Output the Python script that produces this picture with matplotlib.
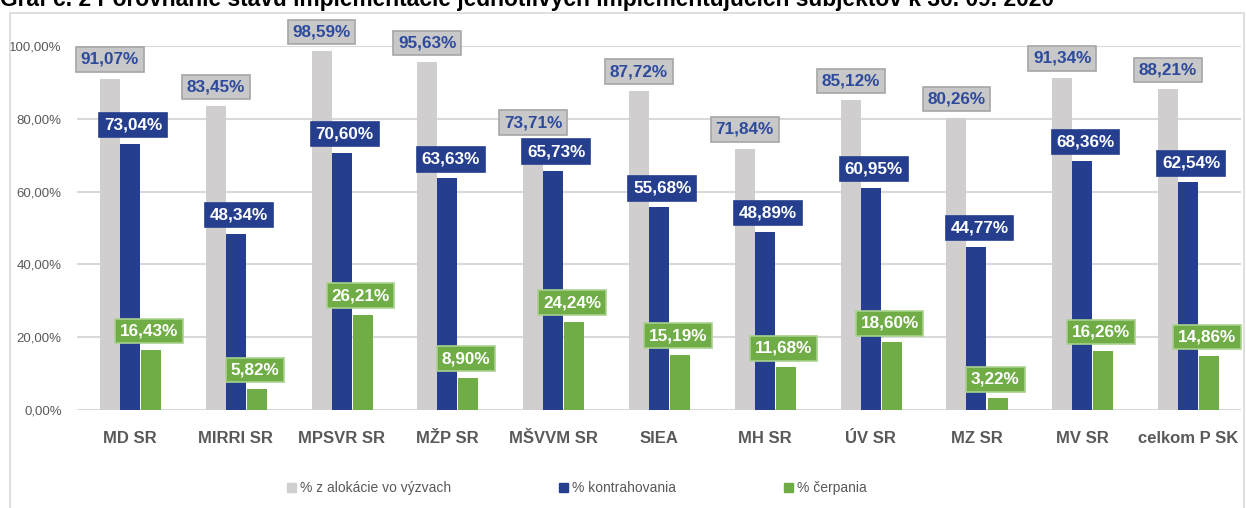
import matplotlib
matplotlib.use('Agg')
import matplotlib.pyplot as plt
from matplotlib import font_manager
from matplotlib.patches import Rectangle, Patch
import numpy as np

# data
categories = ['MD SR', 'MIRRI SR', 'MPSVR SR', 'MŽP SR', 'MŠVVM SR', 'SIEA',
              'MH SR', 'ÚV SR', 'MZ SR', 'MV SR', 'celkom P SK']
alokacia = [91.07, 83.45, 98.59, 95.63, 73.71, 87.72, 71.84, 85.12, 80.26, 91.34, 88.21]
kontrahovanie = [73.04, 48.34, 70.60, 63.63, 65.73, 55.68, 48.89, 60.95, 44.77, 68.36, 62.54]
cerpanie = [16.43, 5.82, 26.21, 8.90, 24.24, 15.19, 11.68, 18.60, 3.22, 16.26, 14.86]
series_names = ['% z alokácie vo výzvach', '% kontrahovania', '% čerpania']
yticks = [0, 20, 40, 60, 80, 100]
title = 'Graf č. 2 Porovnanie stavu implementácie jednotlivých implementujúcich subjektov k 30. 09. 2020'

GRAY = '#d0cece'
BLUE = '#253f8e'
GREEN = '#70ad47'
TXT = '#595959'

installed = {f.name for f in font_manager.fontManager.ttflist}
narrow = 'Liberation Sans Narrow' if 'Liberation Sans Narrow' in installed else None
plt.rcParams['font.family'] = ['Liberation Sans', 'DejaVu Sans']

fig = plt.figure(figsize=(12.46, 5.08), dpi=100)
W, H = 1246, 508
ax = fig.add_axes([77 / W, (H - 410) / H, (1241 - 77) / W, 364 / H])

x = np.arange(len(categories))
bw = 0.189
ax.bar(x - bw, alokacia, bw, color=GRAY, zorder=2)
ax.bar(x, kontrahovanie, bw, color=BLUE, zorder=2)
ax.bar(x + bw + 0.01, cerpanie, bw, color=GREEN, zorder=2)

ax.set_xlim(-0.5, len(categories) - 0.5)
ax.set_ylim(0, 100)
ax.yaxis.grid(True, color='#d9d9d9', linewidth=1.5, zorder=0)
ax.set_axisbelow(True)
for s in ax.spines.values():
    s.set_visible(False)

if narrow:
    tick_font = dict(family=narrow, size=10.8)
    leg_font = dict(family=narrow, size=12)
else:
    tick_font = dict(size=9.5)
    leg_font = dict(size=10)

ax.set_yticks(yticks)
ax.set_yticklabels([f'{v:.2f}%'.replace('.', ',') for v in yticks], color=TXT, **tick_font)
ax.tick_params(axis='y', length=0, pad=11)
ax.set_xticks(x)
ax.set_xticklabels(categories, color=TXT, fontsize=12, fontweight='bold')
ax.tick_params(axis='x', length=0, pad=15)


def fmt(v):
    return f'{v:.2f}%'.replace('.', ',')


def label(xs, vals, txtcolor, face, edge, z):
    for xi, v in zip(xs, vals):
        ax.annotate(fmt(v), (xi, v), xytext=(0, 8.3), textcoords='offset points',
                    ha='center', va='bottom', fontsize=12.3, fontweight='bold',
                    color=txtcolor, annotation_clip=False, zorder=z,
                    bbox=dict(boxstyle='square,pad=0.28', fc=face, ec=edge, lw=1.2))


label(x - bw, alokacia, '#2e4a9b', '#c8c8c8', '#a6a6a6', 4)
label(x + 0.03, kontrahovanie, 'white', BLUE, BLUE, 5)
label(x + bw - 0.01, cerpanie, 'white', GREEN, '#a9d18e', 6)

handles = [Patch(color=c) for c in (GRAY, BLUE, GREEN)]
leg = fig.legend(handles, series_names, loc='center', bbox_to_anchor=(577 / W, 1 - 488 / H),
                 ncol=3, frameon=False, handlelength=0.6, handleheight=0.6,
                 handletextpad=0.3, columnspacing=7.8, prop=leg_font)
for t in leg.get_texts():
    t.set_color(TXT)

# chart border and clipped caption above it
fig.patches.append(Rectangle((10 / W, -0.1), (1244 - 10) / W, 1.1 - 13 / H,
                             transform=fig.transFigure, fill=False, ec='#d9d9d9', lw=1.2))
fig.text(0, 1 - 6 / H, title, ha='left', va='baseline', fontsize=16.4,
         fontweight='bold', color='black')

fig.savefig('out.png', dpi=100)
